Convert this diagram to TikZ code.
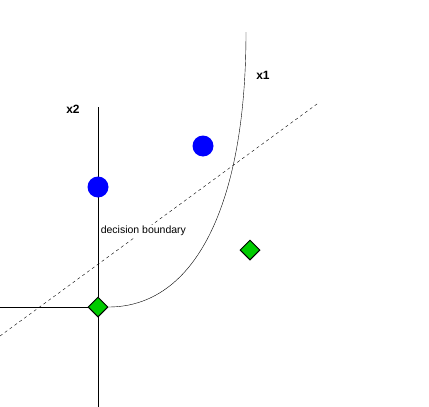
\documentclass[tikz,border=0pt]{standalone}
\usepackage{fontspec}
\setmainfont{Liberation Sans}
\usetikzlibrary{shapes.geometric,backgrounds}
\begin{document}
\begin{tikzpicture}[x=1pt,y=-1pt,line width=1pt,
  blueclass/.style={circle,fill=blue,inner sep=0pt,minimum size=21pt},
  greenclass/.style={diamond,draw=black,fill=green!80!black,inner sep=0pt,minimum width=20pt,minimum height=20pt},
  axislabel/.style={font=\bfseries\fontsize{12}{14}\selectfont},
  boundary/.style={dash pattern=on 3pt off 3pt}]
\useasboundingbox (0,0) rectangle (429,407);
\def\ox{98}
\def\oy{307}
% samples of the two classes
\foreach \n/\px/\py in {1/\ox/187,2/203/146}
	\node[blueclass] (b\n) at (\px,\py) {};
\foreach \n/\px/\py in {1/\ox/\oy,2/250/250}
	\node[greenclass] (g\n) at (\px,\py) {};
\node[axislabel] (lx2) at (73,109) {x2};
\node[axislabel] (lx1) at (263,75) {x1};
\node[fill=white,inner sep=1pt,font=\fontsize{10.5}{12}\selectfont] (lbound) at (143.4,231) {decision boundary};
\coordinate (ytop) at (\ox,107);
\coordinate (ybot) at (\ox,407);
\coordinate (xleft) at (0,\oy);
\coordinate (xtop) at (246,32);
\coordinate (d0) at (0,336);
\coordinate (d1) at (317,104);
\begin{scope}[on background layer]
	\draw (ytop) -- (ybot);
	\draw (xleft) -- (g1.center);
	\draw (g1.east) .. controls (195,\oy) and (246,205) .. (xtop);
	\draw[boundary] (d0) -- (d1);
\end{scope}
\end{tikzpicture}
\end{document}
